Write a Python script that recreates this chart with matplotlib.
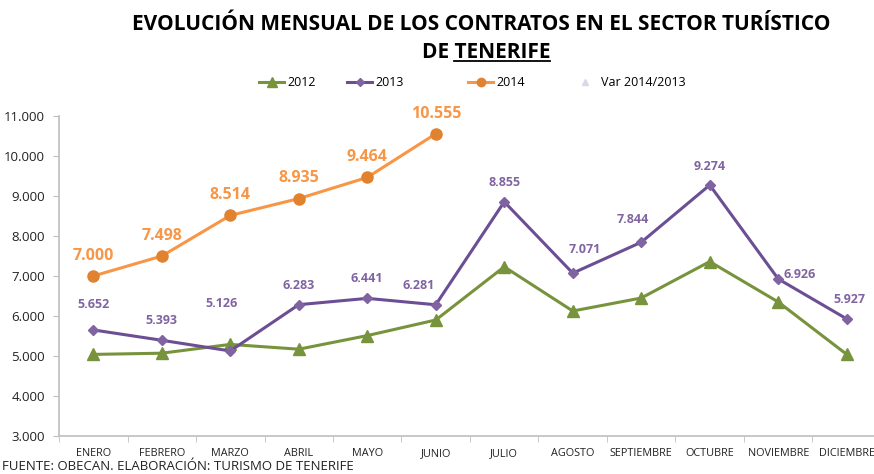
import matplotlib
matplotlib.use("Agg")
import matplotlib.pyplot as plt
from matplotlib.lines import Line2D
from matplotlib.ticker import FuncFormatter, FixedLocator
import numpy as np

months = ["ENERO", "FEBRERO", "MARZO", "ABRIL", "MAYO", "JUNIO", "JULIO",
          "AGOSTO", "SEPTIEMBRE", "OCTUBRE", "NOVIEMBRE", "DICIEMBRE"]
v2012 = [5040, 5070, 5290, 5170, 5510, 5900, 7230, 6125, 6450, 7360, 6350, 5040]
v2013 = [5652, 5393, 5126, 6283, 6441, 6281, 8855, 7071, 7844, 9274, 6926, 5927]
v2014 = [7000, 7498, 8514, 8935, 9464, 10555]
yticks = [3000, 4000, 5000, 6000, 7000, 8000, 9000, 10000, 11000]

title1 = "EVOLUCIÓN MENSUAL DE LOS CONTRATOS EN EL SECTOR TURÍSTICO"
title2a = "DE "
title2b = "TENERIFE"
source = "FUENTE: OBECAN. ELABORACIÓN: TURISMO DE TENERIFE"

FONT = ["Open Sans", "DejaVu Sans"]
plt.rcParams["font.family"] = FONT

c12 = "#77933C"
c13 = "#6B4E94"
c14 = "#F79646"
c14m = "#E0822F"
lab13 = "#8064A2"

W, H = 874, 474
fig = plt.figure(figsize=(W / 100, H / 100), dpi=100)
ax = fig.add_axes([59 / W, 1 - 436 / H, (881 - 59) / W, (436 - 116) / H])

x = np.arange(len(months))
l12, = ax.plot(x, v2012, color=c12, lw=2.2, marker="^", ms=9, mfc=c12, mec=c12, label="2012", zorder=3)
l13, = ax.plot(x, v2013, color=c13, lw=2.2, marker="D", ms=5, mfc=lab13, mec=lab13, label="2013", zorder=4)
l14, = ax.plot(x[:len(v2014)], v2014, color=c14, lw=2.2, marker="o", ms=8, mfc=c14m, mec=c14m, label="2014", zorder=5)
lvar, = ax.plot([], [], ls="none", marker="^", ms=6, color="#DCD6E8", label="Var 2014/2013")

def fmt(v):
    return f"{v:,}".replace(",", ".")

off13 = [(0, 18), (0, 14), (-6, 34), (0, 14), (0, 14), (-12, 14), (0, 14), (9, 17),
         (-6, 16.5), (0, 13), (4, 3), (2, 14)]
ha13 = ["center"] * 10 + ["left", "center"]
for i, v in enumerate(v2013):
    ax.annotate(fmt(v), (x[i], v), xytext=off13[i], textcoords="offset points",
                ha=ha13[i], va="center", color=lab13, fontsize=9, fontweight="bold")
for i, v in enumerate(v2014):
    ax.annotate(fmt(v), (x[i], v), xytext=(0, 14.5), textcoords="offset points",
                ha="center", va="center", color=c14, fontsize=11.5, fontweight="bold")

ax.set_xlim(-0.5, 11.5)
ax.set_ylim(3000, 11000)
ax.yaxis.set_major_locator(FixedLocator(yticks))
ax.yaxis.set_major_formatter(FuncFormatter(lambda v, p: fmt(int(v))))
ax.set_xticks(x)
ax.set_xticklabels(months)
ax.set_xticks(np.arange(-0.5, 12, 1), minor=True)
ax.tick_params(axis="x", which="major", length=0, pad=9, labelsize=7.8, colors="#222222")
ax.tick_params(axis="x", which="minor", length=4, color="#BFBFBF", direction="out")
ax.tick_params(axis="y", length=4, color="#BFBFBF", labelsize=9.5, colors="#222222", pad=6)
for s in ["top", "right"]:
    ax.spines[s].set_visible(False)
for s in ["left", "bottom"]:
    ax.spines[s].set_color("#BFBFBF")
    ax.spines[s].set_linewidth(1.2)
ax.set_facecolor("white")

fig.text(481 / W, 1 - 24 / H, title1, ha="center", va="center", fontsize=15, fontweight="bold", color="black")
t2a = fig.text(486 / W, 1 - 52 / H, title2a + title2b, ha="center", va="center", fontsize=15, fontweight="bold", color="black")

fig.canvas.draw()
r = fig.canvas.get_renderer()
bb_full = t2a.get_window_extent(r)
tmp2 = fig.text(0, 0, title2b, fontsize=15, fontweight="bold")
bb_b = tmp2.get_window_extent(r)
tmp2.remove()
x0 = (bb_full.x1 - bb_b.width) / W
x1 = bb_full.x1 / W
yl = (bb_full.y0 + 2) / H
fig.add_artist(Line2D([x0, x1], [yl, yl], color="black", lw=1.3, transform=fig.transFigure))

leg_x = [259, 347, 468, 572]
for h, lx in zip([l12, l13, l14, lvar], leg_x):
    fig.legend(handles=[h], loc="center left", bbox_to_anchor=(lx / W, 1 - 83 / H),
               frameon=False, fontsize=9, handlelength=2.0, handletextpad=0.3,
               borderpad=0, borderaxespad=0, markerscale=0.75)

fig.text(2 / W, 1 - 467 / H, source, ha="left", va="center", fontsize=9.5, color="#222222")

fig.savefig("out.png", dpi=100, facecolor="white")
